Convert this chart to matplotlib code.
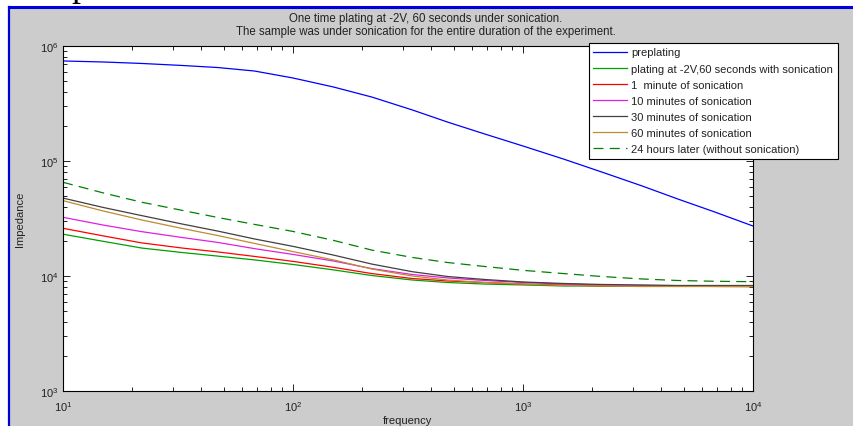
import matplotlib
matplotlib.use("Agg")
import matplotlib.pyplot as plt
from matplotlib.patches import Rectangle
from matplotlib.ticker import LogLocator, FixedLocator, NullFormatter

plt.rcParams['font.family'] = ['Liberation Sans', 'DejaVu Sans']
plt.rcParams['mathtext.fontset'] = 'custom'
plt.rcParams['mathtext.rm'] = 'Liberation Sans'
plt.rcParams['mathtext.it'] = 'Liberation Sans'

# ---- data ----
freq = [10, 15, 22, 33, 47, 68, 100, 150, 220, 330, 470, 680,
        1000, 1500, 2200, 3300, 4700, 6800, 10000]
preplating = [7.41e5, 7.26e5, 7.05e5, 6.77e5, 6.50e5, 6.06e5, 5.27e5, 4.40e5, 3.60e5, 2.78e5,
              2.18e5, 1.72e5, 1.35e5, 1.04e5, 8.02e4, 6.06e4, 4.68e4, 3.61e4, 2.72e4]
plating = [2.31e4, 2.00e4, 1.75e4, 1.60e4, 1.49e4, 1.38e4, 1.26e4, 1.13e4, 1.01e4, 9.23e3,
           8.78e3, 8.51e3, 8.36e3, 8.19e3, 8.19e3, 8.19e3, 8.15e3, 8.12e3, 8.10e3]
min1 = [2.60e4, 2.23e4, 1.94e4, 1.75e4, 1.62e4, 1.48e4, 1.34e4, 1.19e4, 1.05e4, 9.51e3,
        9.05e3, 8.78e3, 8.51e3, 8.36e3, 8.19e3, 8.19e3, 8.15e3, 8.12e3, 8.10e3]
min10 = [3.24e4, 2.77e4, 2.43e4, 2.16e4, 1.96e4, 1.73e4, 1.54e4, 1.35e4, 1.16e4, 1.03e4,
         9.62e3, 9.14e3, 8.78e3, 8.51e3, 8.36e3, 8.19e3, 8.19e3, 8.19e3, 8.19e3]
min30 = [4.76e4, 3.94e4, 3.35e4, 2.83e4, 2.46e4, 2.10e4, 1.81e4, 1.52e4, 1.27e4, 1.09e4,
         9.90e3, 9.33e3, 8.87e3, 8.61e3, 8.44e3, 8.36e3, 8.27e3, 8.27e3, 8.27e3]
min60 = [4.52e4, 3.67e4, 3.07e4, 2.59e4, 2.25e4, 1.92e4, 1.63e4, 1.38e4, 1.15e4, 1.00e4,
         9.23e3, 8.78e3, 8.51e3, 8.27e3, 8.20e3, 8.10e3, 8.10e3, 8.10e3, 8.10e3]
hours24 = [6.53e4, 5.27e4, 4.38e4, 3.72e4, 3.23e4, 2.81e4, 2.44e4, 2.04e4, 1.68e4, 1.45e4,
           1.31e4, 1.21e4, 1.12e4, 1.05e4, 9.90e3, 9.42e3, 9.14e3, 9.00e3, 8.92e3]

labels = ["preplating",
          "plating at -2V,60 seconds with sonication",
          "1  minute of sonication",
          "10 minutes of sonication",
          "30 minutes of sonication",
          "60 minutes of sonication",
          "24 hours later (without sonication)"]
series = [preplating, plating, min1, min10, min30, min60, hours24]
colors = ["#0000ff", "#00a000", "#ff0000", "#e020e0", "#404040", "#c08a30", "#008000"]
styles = ["-", "-", "-", "-", "-", "-", (0, (8, 5))]

title_lines = ["One time plating at -2V, 60 seconds under sonication.",
               "The sample was under sonication for the entire duration of the experiment."]
xlabel = "frequency"
ylabel = "Impedance"
xticks = [10, 100, 1000, 10000]
xticklabels = [r"$10^{1}$", r"$10^{2}$", r"$10^{3}$", r"$10^{4}$"]
yticks = [1e3, 1e4, 1e5, 1e6]
yticklabels = [r"$10^{3}$", r"$10^{4}$", r"$10^{5}$", r"$10^{6}$"]

W, H = 854, 427
fig = plt.figure(figsize=(W / 100, H / 100), dpi=100, facecolor="white")

# gray panel with blue border (top and left)
fig.add_artist(Rectangle((9 / W, 0), 1, (H - 9) / H, transform=fig.transFigure,
                         facecolor="#cccccc", edgecolor="none", zorder=-10))
fig.add_artist(plt.Line2D([8.5 / W, 1], [(H - 8) / H, (H - 8) / H], transform=fig.transFigure,
                          color="#0000dd", lw=2.2, zorder=-5))
fig.add_artist(plt.Line2D([8.5 / W, 8.5 / W], [0, (H - 8) / H], transform=fig.transFigure,
                          color="#0000dd", lw=1.6, zorder=-5))
# cut-off fragment of text above the panel
fig.text(71 / W, (H + 4) / H, "p", family="Liberation Serif", fontsize=26,
         ha="left", va="baseline", color="black")

ax = fig.add_axes([63 / W, 1 - 392 / H, (753 - 63) / W, (392 - 47) / H])
ax.set_facecolor("white")
for s, lab, c, ls in zip(series, labels, colors, styles):
    ax.plot(freq, s, color=c, ls=ls, lw=0.9, label=lab)

ax.set_xscale("log")
ax.set_yscale("log")
ax.set_xlim(10, 1e4)
ax.set_ylim(1e3, 1e6)
ax.xaxis.set_major_locator(FixedLocator(xticks))
ax.set_xticklabels(xticklabels)
ax.yaxis.set_major_locator(FixedLocator(yticks))
ax.set_yticklabels(yticklabels)
ax.xaxis.set_minor_locator(LogLocator(base=10, subs=range(2, 10)))
ax.yaxis.set_minor_locator(LogLocator(base=10, subs=range(2, 10)))
ax.xaxis.set_minor_formatter(NullFormatter())
ax.yaxis.set_minor_formatter(NullFormatter())
ax.tick_params(which="both", direction="in", top=True, right=True, labelsize=8,
               color="black", labelcolor="#222222", width=0.6)
ax.tick_params(which="major", length=5)
ax.tick_params(which="minor", length=3)
ax.tick_params(axis="x", pad=6)
ax.tick_params(axis="y", pad=3)
for sp in ax.spines.values():
    sp.set_linewidth(0.8)
    sp.set_color("black")

ax.set_xlabel(xlabel, fontsize=8, color="#222222", labelpad=1)
ax.set_ylabel(ylabel, fontsize=8, color="#222222", labelpad=11)

fig.text(426 / W, 1 - 19 / H, title_lines[0], ha="center", va="center", fontsize=8.3, color="#222222")
fig.text(426 / W, 1 - 32 / H, title_lines[1], ha="center", va="center", fontsize=8.3, color="#222222")

leg = ax.legend(loc="upper left", bbox_to_anchor=(589 / W, 1 - 44 / H),
                bbox_transform=fig.transFigure, fontsize=8, frameon=True,
                fancybox=False, framealpha=1, edgecolor="black", handlelength=3.0,
                handletextpad=0.4, labelspacing=0.55, borderpad=0.4, borderaxespad=0)
leg.get_frame().set_linewidth(0.8)
for t in leg.get_texts():
    t.set_color("#222222")

fig.savefig("out.png", dpi=100, facecolor=fig.get_facecolor())
